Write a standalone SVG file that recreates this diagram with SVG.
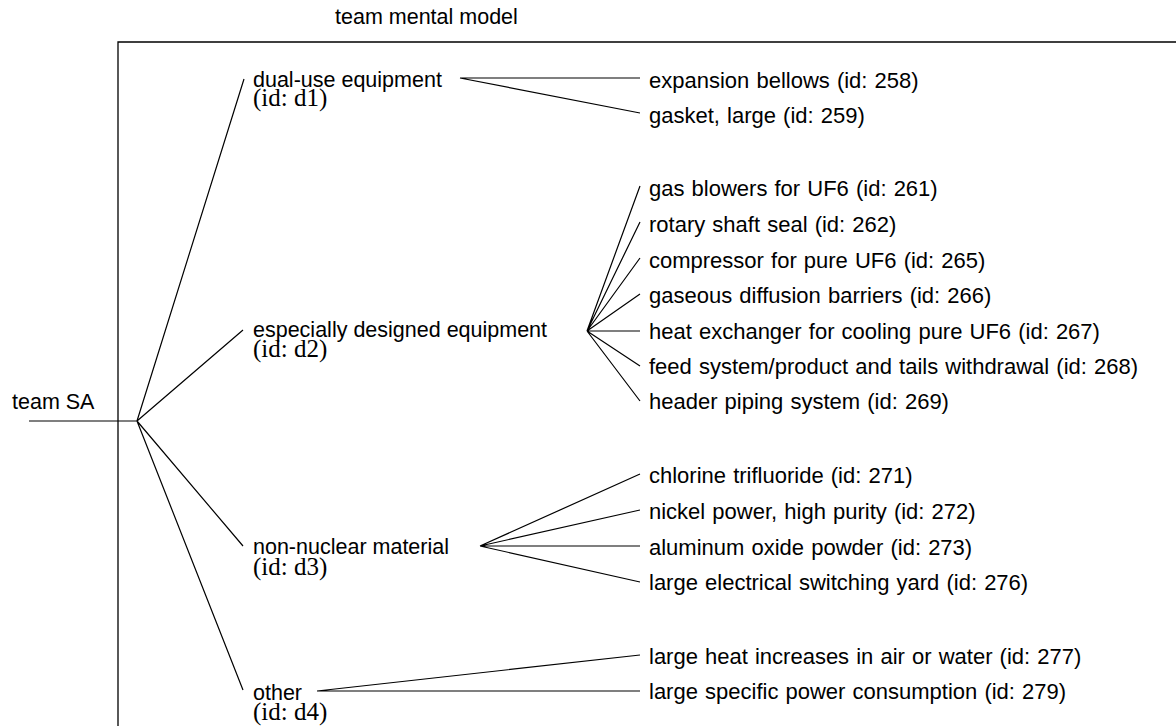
<svg xmlns="http://www.w3.org/2000/svg" width="1176" height="726" viewBox="0 0 1176 726">
  <style>
    .sans { font-family: "Liberation Sans", Arial, sans-serif; font-size: 21.5px; fill: #000; }
    .item { font-family: "Liberation Sans", Arial, sans-serif; font-size: 22px; word-spacing: 1px; fill: #000; }
    .serif { font-family: "Liberation Serif", "Times New Roman", serif; font-size: 25px; fill: #000; }
    .edge { stroke: #000; stroke-width: 1.2; fill: none; }
    .frame { stroke: #000; stroke-width: 1.3; fill: none; }
  </style>
  <rect width="1176" height="726" fill="#fff"/>

  <!-- enclosing frame -->
  <g id="frame">
    <text class="sans" x="335" y="24">team mental model</text>
    <path class="frame" d="M118 726 V42 H1176"/>
  </g>

  <!-- connectors -->
  <g id="connectors">
    <path class="edge" d="M29 421 H137"/>
    <path class="edge" d="M137 421 L244 79 M137 421 L243 330 M137 421 L243 546 M137 421 L243 690"/>
    <path class="edge" d="M460 78 L640 78 M460 78 L640 113"/>
    <path class="edge" d="M587 331 L640 186 M587 331 L640 222 M587 331 L640 258 M587 331 L640 294 M587 331 L640 331 M587 331 L640 366 M587 331 L640 401"/>
    <path class="edge" d="M480 546 L640 474 M480 546 L640 510 M480 546 L640 546 M480 546 L640 582"/>
    <path class="edge" d="M317 691 L640 655 M317 691 L640 691"/>
  </g>

  <!-- root -->
  <g id="root">
    <text class="sans" x="12" y="409">team SA</text>
  </g>

  <!-- category nodes -->
  <g id="d1">
    <text class="sans" x="253" y="87">dual-use equipment</text>
    <text class="serif" x="253" y="106">(id: d1)</text>
  </g>
  <g id="d2">
    <text class="sans" x="253" y="337">especially designed equipment</text>
    <text class="serif" x="253" y="357">(id: d2)</text>
  </g>
  <g id="d3">
    <text class="sans" x="253" y="554">non-nuclear material</text>
    <text class="serif" x="253" y="575">(id: d3)</text>
  </g>
  <g id="d4">
    <text class="sans" x="253" y="700">other</text>
    <text class="serif" x="253" y="720">(id: d4)</text>
  </g>

  <!-- item nodes -->
  <g id="n258"><text class="item" x="649" y="88">expansion bellows (id: 258)</text></g>
  <g id="n259"><text class="item" x="649" y="123">gasket, large (id: 259)</text></g>

  <g id="n261"><text class="item" x="649" y="196">gas blowers for UF6 (id: 261)</text></g>
  <g id="n262"><text class="item" x="649" y="232">rotary shaft seal (id: 262)</text></g>
  <g id="n265"><text class="item" x="649" y="268">compressor for pure UF6 (id: 265)</text></g>
  <g id="n266"><text class="item" x="649" y="303">gaseous diffusion barriers (id: 266)</text></g>
  <g id="n267"><text class="item" x="649" y="339">heat exchanger for cooling pure UF6 (id: 267)</text></g>
  <g id="n268"><text class="item" x="649" y="374">feed system/product and tails withdrawal (id: 268)</text></g>
  <g id="n269"><text class="item" x="649" y="409">header piping system (id: 269)</text></g>

  <g id="n271"><text class="item" x="649" y="483">chlorine trifluoride (id: 271)</text></g>
  <g id="n272"><text class="item" x="649" y="519">nickel power, high purity (id: 272)</text></g>
  <g id="n273"><text class="item" x="649" y="555">aluminum oxide powder (id: 273)</text></g>
  <g id="n276"><text class="item" x="649" y="590">large electrical switching yard (id: 276)</text></g>

  <g id="n277"><text class="item" x="649" y="664">large heat increases in air or water (id: 277)</text></g>
  <g id="n279"><text class="item" x="649" y="699">large specific power consumption (id: 279)</text></g>
</svg>
